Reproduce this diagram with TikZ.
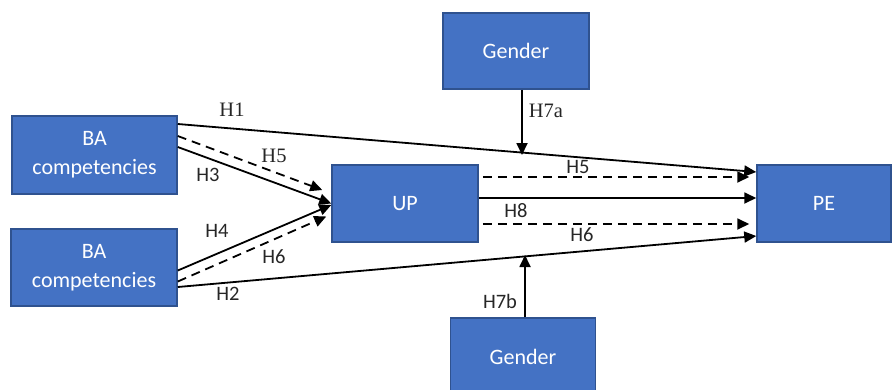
\documentclass[tikz,border=0pt]{standalone}
\usepackage{fontspec}
\setmainfont{Carlito}
\newfontfamily\serifl{Liberation Serif}
\usetikzlibrary{calc,arrows.meta}
\definecolor{boxfill}{HTML}{4472C4}
\definecolor{boxline}{HTML}{2F528F}
\definecolor{labtxt}{HTML}{262626}
\tikzset{
  box/.style={draw=boxline, line width=1.5pt, fill=boxfill, text=white, align=center,
    font=\fontsize{22}{29}\selectfont, inner sep=0pt},
  link/.style={line width=1.8pt, -{Triangle[length=12pt,width=11pt]}},
  dlink/.style={link, dash pattern=on 9pt off 6pt},
  lab/.style={text=labtxt, font=\fontsize{20.5}{24}\selectfont, inner sep=0pt},
  slab/.style={text=labtxt, font=\serifl\fontsize{20.5}{24}\selectfont, inner sep=0pt}
}
\begin{document}
\begin{tikzpicture}[x=1pt,y=-1pt]
\useasboundingbox (0,0) rectangle (893,389);
\node[box, minimum width=165pt, minimum height=78pt] (BA1) at (94.5,155) {BA\\competencies};
\node[box, minimum width=166pt, minimum height=77pt] (BA2) at (94,267.5) {BA\\competencies};
\node[box, minimum width=146pt, minimum height=77pt] (UP) at (405,203.5) {UP};
\node[box, minimum width=134pt, minimum height=77pt] (PE) at (824,203.5) {PE};
\node[box, minimum width=146pt, minimum height=76pt] (GT) at (516,51) {Gender};
\node[box, minimum width=145pt, minimum height=77pt] (GB) at (523,356.5) {Gender};
\coordinate (T1) at (522,155);
\coordinate (T2) at (525,255);
% connectors
\draw[link] ($(BA1.east)+(0,-31)$) -- ($(PE.west)+(0,-31.5)$);
\draw[dlink] ($(BA1.east)+(0,-19)$) -- ($(UP.west)+(-9,-13.5)$);
\draw[link] ($(BA1.east)+(0,-8)$) -- (UP.west);
\draw[link] ($(BA2.east)+(0,3)$) -- ($(UP.west)+(0,1.5)$);
\draw[dlink] ($(BA2.east)+(0,14)$) -- ($(UP.west)+(-5,13)$);
\draw[link] ($(BA2.east)+(0,19.5)$) -- ($(PE.west)+(0,32.5)$);
\draw[dlink] ($(UP.east)+(4,-26.5)$) -- ($(PE.west)+(-7,-26.5)$);
\draw[link] ($(UP.east)+(0,-5.5)$) -- ($(PE.west)+(0,-5.5)$);
\draw[dlink] ($(UP.east)+(4,20.5)$) -- ($(PE.west)+(-7,20.5)$);
\draw[link] ($(GT.south)+(6,0)$) -- (T1);
\draw[link] ($(GB.north)+(2,0)$) -- (T2);
% labels
\node[slab] (l1) at (232,110) {H1};
\node[slab] (l5a) at (274,156) {H5};
\node[lab] (l3) at (208,175) {H3};
\node[lab] (l4) at (217,231) {H4};
\node[lab] (l6a) at (274,257) {H6};
\node[lab] (l2) at (228,294) {H2};
\node[lab] (l5b) at (578,167) {H5};
\node[lab] (l8) at (516,211) {H8};
\node[lab] (l6b) at (582,235) {H6};
\node[slab] (l7a) at (546,111) {H7a};
\node[lab] (l7b) at (500,301) {H7b};
\end{tikzpicture}
\end{document}
